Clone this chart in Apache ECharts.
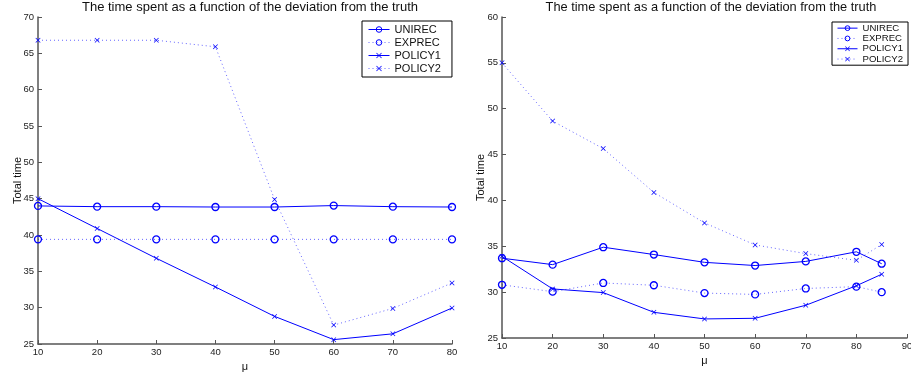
<!DOCTYPE html>
<html>
<head>
<meta charset="utf-8">
<script src="https://cdn.jsdelivr.net/npm/echarts@6/dist/echarts.min.js"></script>
<style>
  html, body { margin: 0; padding: 0; background: #fff; }
  #main { width: 911px; height: 377px; }
</style>
</head>
<body>
<div id="main"></div>
<script>
// left plot
var muLeft = [10, 20, 30, 40, 50, 60, 70, 80];
var unirecLeft = [44.0, 43.9, 43.9, 43.85, 43.85, 44.05, 43.9, 43.85];
var exprecLeft = [39.4, 39.4, 39.4, 39.4, 39.4, 39.4, 39.4, 39.4];
var policy1Left = [45.0, 40.9, 36.8, 32.85, 28.8, 25.6, 26.4, 29.95];
var policy2Left = [66.8, 66.8, 66.8, 65.9, 44.9, 27.6, 29.9, 33.4];

// right plot
var muRight = [10, 20, 30, 40, 50, 60, 70, 80, 85];
var unirecRight = [33.7, 33.0, 34.9, 34.1, 33.25, 32.9, 33.35, 34.4, 33.1];
var exprecRight = [30.8, 30.05, 31.0, 30.75, 29.9, 29.75, 30.4, 30.6, 30.0];
var policy1Right = [33.9, 30.35, 29.95, 27.8, 27.08, 27.15, 28.57, 30.7, 31.95];
var policy2Right = [55.0, 48.65, 45.65, 40.87, 37.55, 35.15, 34.2, 33.47, 35.2];

var titleText = 'The time spent as a function of the deviation from the truth';
var names = ['UNIREC', 'EXPREC', 'POLICY1', 'POLICY2'];

var blue = '#0000ff';
var crossPath = 'path://M0,1L1,0L5,4L9,0L10,1L6,5L10,9L9,10L5,6L1,10L0,9L4,5Z';
var font = 'Liberation Sans, Arial, Helvetica, sans-serif';

function zip(xs, ys) {
  return xs.map(function (x, i) { return [x, ys[i]]; });
}

function makeSeries(name, xs, ys, idx, dotted, marker) {
  var s = {
    name: name,
    type: 'line',
    xAxisIndex: idx,
    yAxisIndex: idx,
    data: zip(xs, ys),
    animation: false,
    lineStyle: { color: blue, width: 1, type: dotted ? [1, 3] : 'solid', opacity: dotted ? 0.6 : 1 }
  };
  if (marker === 'o') {
    s.symbol = 'circle';
    s.symbolSize = 7;
    s.itemStyle = { color: 'rgba(255,255,255,0)', borderColor: blue, borderWidth: 1.3 };
  } else {
    s.symbol = crossPath;
    s.symbolSize = 5;
    s.itemStyle = { color: blue, borderWidth: 0 };
  }
  return s;
}

function axisX(idx, max) {
  return {
    type: 'value', gridIndex: idx, min: 10, max: max, interval: 10,
    name: 'μ', nameLocation: 'middle', nameGap: 17, nameMoveOverlap: false,
    nameTextStyle: { fontSize: 11, color: '#111', fontFamily: font },
    axisLine: { lineStyle: { color: '#555', width: 1.5 } },
    axisTick: { inside: true, length: 4, lineStyle: { color: '#555' } },
    axisLabel: { fontSize: 9.5, color: '#222', fontFamily: font, margin: 3 },
    splitLine: { show: false }
  };
}

function axisY(idx, min, max, gap) {
  return {
    type: 'value', gridIndex: idx, min: min, max: max, interval: 5,
    name: 'Total time', nameLocation: 'middle', nameGap: gap, nameMoveOverlap: false,
    nameTextStyle: { fontSize: 11, color: '#111', fontFamily: font },
    axisLine: { show: true, lineStyle: { color: '#555', width: 1.5 } },
    axisTick: { show: true, inside: true, length: 4, lineStyle: { color: '#555' } },
    axisLabel: { fontSize: 9.5, color: '#222', fontFamily: font, margin: 4 },
    splitLine: { show: false }
  };
}

var chart = echarts.init(document.getElementById('main'));

var option = {
  backgroundColor: '#fff',
  animation: false,
  title: [
    { text: titleText, left: 245, textAlign: 'center', top: -4,
      textStyle: { fontSize: 13, fontWeight: 'normal', color: '#111', fontFamily: font } },
    { text: titleText, left: 706, textAlign: 'center', top: -4,
      textStyle: { fontSize: 12.8, fontWeight: 'normal', color: '#111', fontFamily: font } }
  ],
  grid: [
    { left: 38, right: 459, top: 17, bottom: 33, outerBoundsMode: 'none' },
    { left: 502, right: 4, top: 17, bottom: 39, outerBoundsMode: 'none' }
  ],
  xAxis: [axisX(0, 80), axisX(1, 90)],
  yAxis: [axisY(0, 25, 70, 15), axisY(1, 25, 60, 16)],
  legend: [
    { data: names, orient: 'vertical', left: 362, top: 21, padding: [2, 11, 2, 6],
      itemWidth: 21, itemHeight: 7, itemGap: 0,
      lineStyle: { width: 1 }, itemStyle: { borderWidth: 1 },
      borderColor: '#000', borderWidth: 1, backgroundColor: '#fff',
      textStyle: { fontSize: 11, lineHeight: 13, color: '#111', fontFamily: font } },
    { data: names, orient: 'vertical', left: 832, top: 22, padding: [1, 5, 1, 5],
      itemWidth: 20, itemHeight: 6, itemGap: 0,
      lineStyle: { width: 1 }, itemStyle: { borderWidth: 1 },
      borderColor: '#000', borderWidth: 1, backgroundColor: '#fff',
      textStyle: { fontSize: 9.6, lineHeight: 10.3, color: '#111', fontFamily: font } }
  ],
  series: [
    makeSeries('UNIREC', muLeft, unirecLeft, 0, false, 'o'),
    makeSeries('EXPREC', muLeft, exprecLeft, 0, true, 'o'),
    makeSeries('POLICY1', muLeft, policy1Left, 0, false, 'x'),
    makeSeries('POLICY2', muLeft, policy2Left, 0, true, 'x'),
    makeSeries('UNIREC', muRight, unirecRight, 1, false, 'o'),
    makeSeries('EXPREC', muRight, exprecRight, 1, true, 'o'),
    makeSeries('POLICY1', muRight, policy1Right, 1, false, 'x'),
    makeSeries('POLICY2', muRight, policy2Right, 1, true, 'x')
  ]
};

chart.setOption(option);
</script>
</body>
</html>
